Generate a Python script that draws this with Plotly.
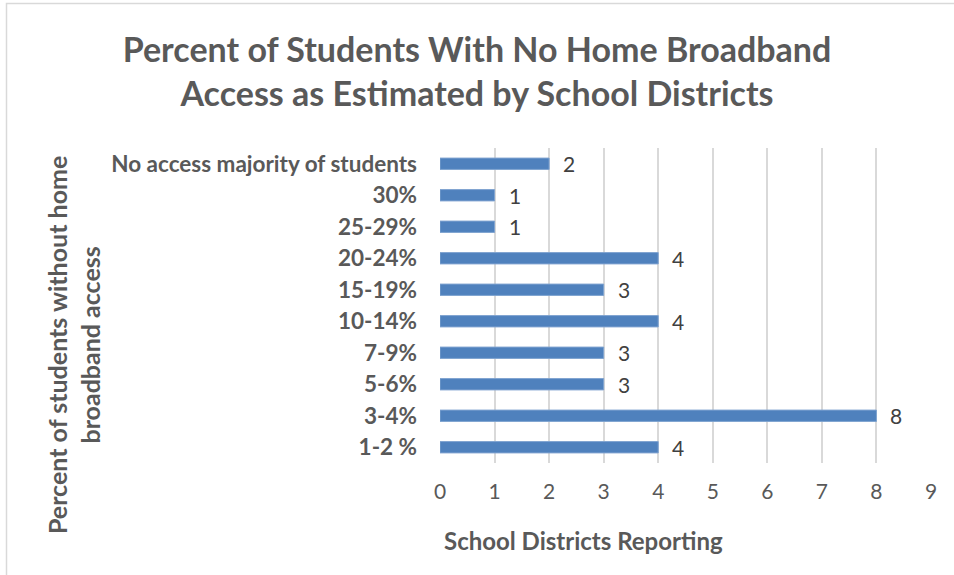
import plotly.graph_objects as go

categories = ["1-2 %", "3-4%", "5-6%", "7-9%", "10-14%", "15-19%", "20-24%", "25-29%", "30%", "No access majority of students"]
values = [4, 8, 3, 3, 4, 3, 4, 1, 1, 2]
x_ticks = [0, 1, 2, 3, 4, 5, 6, 7, 8, 9]

FONT = "Lato"
GRAY = "#595959"

fig = go.Figure()
fig.add_trace(go.Bar(
    y=categories, x=values, orientation="h",
    marker=dict(color="#4F81BD", line=dict(color="#7FA3D0", width=1)),
    hoverinfo="skip",
))

annotations = []
for c, v in zip(categories, values):
    annotations.append(dict(x=v, y=c, xref="x", yref="y", text=str(v), showarrow=False,
                            xanchor="left", xshift=12, font=dict(family=FONT, size=21, color="#404040")))

annotations.append(dict(x=0.004, y=-0.245, xref="paper", yref="paper", text="<b>School Districts Reporting</b>",
                        showarrow=False, xanchor="left", yanchor="middle",
                        font=dict(family=FONT, size=24, color=GRAY)))
annotations.append(dict(x=-0.745, y=0.375, xref="paper", yref="paper",
                        text="<b>Percent of students without home<br>broadband access</b>",
                        showarrow=False, textangle=-90, xanchor="center", yanchor="middle",
                        font=dict(family=FONT, size=25, color=GRAY)))

fig.update_layout(
    width=954, height=575,
    margin=dict(l=440, r=23, t=148, b=112),
    paper_bgcolor="white", plot_bgcolor="white",
    showlegend=False,
    bargap=0.64,
    title=dict(text="<b>Percent of Students With No Home Broadband<br>Access as Estimated by School Districts</b>",
               x=0.5, xref="container", xanchor="center", y=0.892, yref="container", yanchor="middle",
               font=dict(family=FONT, size=34, color=GRAY)),
    xaxis=dict(range=[0, 9], tickvals=x_ticks, showgrid=True, gridcolor="#D9D9D9", gridwidth=1.5,
               zeroline=False, showline=False, ticks="", tickfont=dict(family=FONT, size=21, color=GRAY),
               ticklabelstandoff=14, fixedrange=True),
    yaxis=dict(categoryorder="array", categoryarray=categories, showgrid=False, zeroline=False,
               showline=False, ticks="", tickfont=dict(family=FONT, size=22.5, color=GRAY, weight="bold"),
               ticklabelstandoff=22, fixedrange=True),
    annotations=annotations,
    shapes=[dict(type="rect", xref="paper", yref="paper",
                 x0=(6.5 - 440) / 491, x1=(1000 - 440) / 491,
                 y0=(463 - 620) / 315, y1=(463 - 3.5) / 315,
                 line=dict(color="#D9D9D9", width=1.5), fillcolor="rgba(0,0,0,0)", layer="below")],
)
fig.write_html("out.html", config={"displayModeBar": False},
               post_script="document.body.style.margin='0px';")
